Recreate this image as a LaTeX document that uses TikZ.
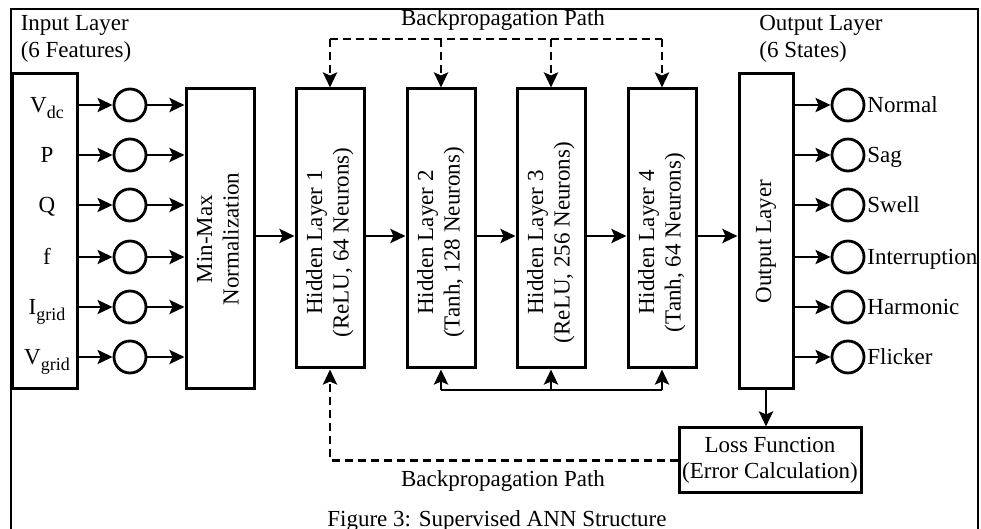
\documentclass[tikz,border=0pt]{standalone}
\usepackage{fontspec}
\setmainfont{Liberation Serif}
\usepackage{graphicx}
\usetikzlibrary{arrows.meta}
\newcommand\lowtext[1]{\raisebox{-0.28em}{\fontsize{9}{10}\selectfont #1}}

\begin{document}
\begin{tikzpicture}[x=0.5pt, y=-0.5pt, font=\fontsize{11.5}{13.3}\selectfont,
    >={Stealth[length=7.5pt, width=7pt, inset=1.5pt]},
    box/.style={draw, line width=1.5pt, inner sep=0pt},
    neuron/.style={draw, circle, line width=1.4pt, minimum size=16pt, inner sep=0pt},
    link/.style={line width=1.4pt},
    arr/.style={->, line width=1.4pt},
    backarr/.style={line width=1.4pt, dash pattern=on 4pt off 2.5pt},
    statelabel/.style={anchor=base west, inner sep=0pt}]
        \def\Hy{228.5} \def\Ay{236}
        \useasboundingbox (0,0) rectangle (981,529);
        \draw[line width=0.8pt] (11,529) -- (11,9) -- (978,9) -- (978,529);

        % input side
        \node[box, minimum width=32.5pt, minimum height=157.5pt] (I) at (44.5,231.5) {};
        \node[align=left] (Ihead) at (76,39) {Input Layer\\(6 Features)};
        \node[box, minimum width=34pt, minimum height=150pt] (N) at (220,239)
            {\rotatebox{90}{\begin{tabular}{@{}c@{}}Min-Max\\Normalization\end{tabular}}};
        \foreach \y/\t [count=\i] in {105/V\lowtext{dc}, 155/P, 205/Q, 257/f, 307/I\lowtext{grid}, 357/V\lowtext{grid}} {
            \node[anchor=base, inner sep=0pt] (f\i) at (47,\y+7.5) {\t};
            \node[neuron] (c\i) at (130,\y) {};
            \draw[arr] (I.east |- c\i) -- (c\i);
            \draw[arr] (c\i) -- (N.west |- c\i);
        }

        % hidden layers
        \coordinate (mid) at (0,\Ay);
        \foreach \x/\t/\i in {330/{ReLU, 64}/1, 441/{Tanh, 128}/2, 551/{ReLU, 256}/3, 662/{Tanh, 64}/4} {
            \node[box, minimum width=34pt, minimum height=139.5pt] (H\i) at (\x,\Hy)
                {\rotatebox{90}{\begin{tabular}{@{}c@{}}Hidden Layer \i\\(\t{} Neurons)\end{tabular}\hspace{14pt}}};
            \coordinate (bt\i) at (\x,39);
        }
        \draw[arr] (N.east |- mid) -- (H1.west |- mid);
        \foreach \i/\j in {1/2, 2/3, 3/4}
            \draw[arr] (H\i.east |- mid) -- (H\j.west |- mid);

        % output side
        \node[box, minimum width=27pt, minimum height=157.5pt] (O) at (766,231.5) {\rotatebox{90}{Output Layer\hspace{10pt}}};
        \node[align=left] (Ohead) at (821,39) {Output Layer\\(6 States)};
        \draw[arr] (H4.east |- mid) -- (O.west |- mid);
        \foreach \y/\t [count=\i] in {105/Normal, 155/Sag, 205/Swell, 257/Interruption, 307/Harmonic, 357/Flicker} {
            \node[neuron] (o\i) at (848,\y) {};
            \node[statelabel] (s\i) at (867,\y+7.5) {\t};
            \draw[arr] (O.east |- o\i) -- (o\i);
        }
        \node[box, minimum width=91pt, minimum height=32.5pt, align=center] (L) at (770,460.5) {Loss Function\\(Error Calculation)};
        \draw[arr] (O.south) -- (O.south |- L.north);

        % backpropagation
        \node (bptop) at (503,20.5) {Backpropagation Path};
        \draw[backarr] (bt1) -- (bt4);
        \foreach \i in {1,...,4}
            \draw[backarr, ->] (bt\i) -- (H\i.north);
        \coordinate (fb) at (0,390);
        \draw[link] (H2.south |- fb) -- (H4.south |- fb);
        \foreach \i in {2,3,4}
            \draw[arr] (H\i.south |- fb) -- (H\i.south);
        \draw[backarr, ->] (L.west) -| (H1.south);
        \node (bpbot) at (503,481.5) {Backpropagation Path};

        \node (cap) at (497,521) {Figure 3: Supervised ANN Structure};
    \end{tikzpicture}
\end{document}
